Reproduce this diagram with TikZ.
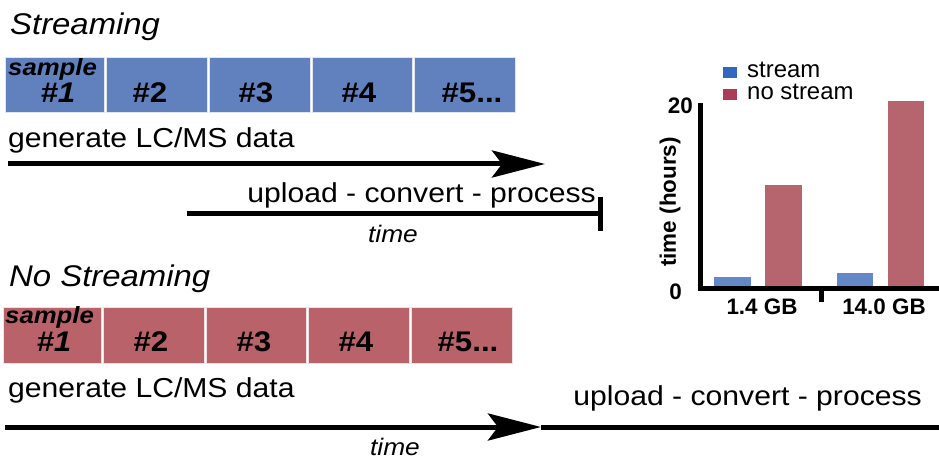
\documentclass[tikz,border=0pt]{standalone}
\usepackage{fontspec}
\setmainfont{Liberation Sans}
\newfontfamily\widefont[FakeStretch=1.1]{Liberation Sans}
\usetikzlibrary{arrows.meta}
\definecolor{boxblue}{HTML}{6080BE}
\definecolor{boxred}{HTML}{B96269}
\definecolor{barblue}{HTML}{6487C8}
\definecolor{barred}{HTML}{B6646E}
\definecolor{legblue}{HTML}{3366BE}
\definecolor{legred}{HTML}{AA3C5A}
\tikzset{
  bigtxt/.style={inner sep=0, font=\widefont\fontsize{27.5}{30}\selectfont},
  titletxt/.style={inner sep=0, font=\widefont\fontsize{30}{33}\selectfont\itshape},
  timetxt/.style={inner sep=0, font=\widefont\fontsize{24}{26}\selectfont\itshape},
  numtxt/.style={inner sep=0, font=\widefont\fontsize{28.5}{30}\selectfont\bfseries},
  numitxt/.style={inner sep=0, font=\widefont\fontsize{28.5}{30}\selectfont\bfseries\itshape},
  smptxt/.style={inner sep=0, font=\widefont\fontsize{23.5}{26}\selectfont\bfseries\itshape},
  bluebox/.style={fill=boxblue, draw=white!80!boxblue, line width=1bp},
  redbox/.style={fill=boxred, draw=white!80!boxred, line width=1bp},
  timeline/.style={line width=5bp},
  arrowline/.style={line width=5bp, -{Stealth[length=53bp,width=27bp,inset=10bp]}},
  axis/.style={line width=5bp, line join=miter},
  charttxt/.style={inner sep=0, font=\fontsize{22.5}{24}\selectfont\bfseries},
  legtxt/.style={inner sep=0, font=\fontsize{24}{26}\selectfont},
}
\begin{document}
\begin{tikzpicture}[x=1bp,y=-1bp]
\useasboundingbox (0,0) rectangle (939,459);

% ---------- Streaming ----------
\node[titletxt, anchor=base west] (tstream) at (10,35) {Streaming};

\path[bluebox] (5,58) rectangle (104,113);
\path[bluebox] (106,58) rectangle (207,113);
\path[bluebox] (209,58) rectangle (310,113);
\path[bluebox] (312,58) rectangle (412,113);
\path[bluebox] (414,58) rectangle (515,113);
\node[smptxt, anchor=base west] (bs) at (8,76) {sample};
\node[numitxt, anchor=base] (b1) at (58,103) {\#1};
\node[numtxt, anchor=base] (b2) at (150,103) {\#2};
\node[numtxt, anchor=base] (b3) at (256,103) {\#3};
\node[numtxt, anchor=base] (b4) at (359,103) {\#4};
\node[numtxt, anchor=base] (b5) at (472,103) {\#5...};

\node[bigtxt, anchor=base west] (gen1) at (8,148) {generate LC/MS data};
\coordinate (a1s) at (8,164);
\coordinate (a1e) at (545,164);
\draw[arrowline] (a1s) -- (a1e);

\node[bigtxt, anchor=base east] (up1) at (596,203) {upload - convert - process};
\coordinate (l2s) at (187,214);
\coordinate (l2e) at (600,214);
\coordinate (b2t) at (600,197);
\coordinate (b2b) at (600,231);
\draw[timeline] (l2s) -- (l2e);
\draw[timeline] (b2t) -- (b2b);
\node[timetxt, anchor=base] (time1) at (393,243) {time};

% ---------- No Streaming ----------
\node[titletxt, anchor=base west] (tnostream) at (9,287) {No Streaming};

\path[redbox] (3,308) rectangle (101,364);
\path[redbox] (103,308) rectangle (204,364);
\path[redbox] (206,308) rectangle (306,364);
\path[redbox] (308,308) rectangle (409,364);
\path[redbox] (411,308) rectangle (512,364);
\node[smptxt, anchor=base west] (rs) at (5,324) {sample};
\node[numitxt, anchor=base] (r1) at (54,352) {\#1};
\node[numtxt, anchor=base] (r2) at (151,352) {\#2};
\node[numtxt, anchor=base] (r3) at (254,352) {\#3};
\node[numtxt, anchor=base] (r4) at (356,352) {\#4};
\node[numtxt, anchor=base] (r5) at (468,352) {\#5...};

\node[bigtxt, anchor=base west] (gen2) at (8,397) {generate LC/MS data};
\node[bigtxt, anchor=base east] (up2) at (922,405) {upload - convert - process};
\coordinate (a3s) at (5,427);
\coordinate (a3e) at (541,427);
\coordinate (l4e) at (939,427);
\draw[arrowline] (a3s) -- (a3e);
\draw[timeline] (a3e) -- (l4e);
\node[timetxt, anchor=base] (time2) at (395,455) {time};

% ---------- Chart ----------
\fill[legblue] (723,67) rectangle (737,78);
\node[legtxt, anchor=base west] (lstream) at (747,78) {stream};
\fill[legred] (723,89) rectangle (737,100);
\node[legtxt, anchor=base west] (lnostream) at (747,100) {no stream};

\fill[barblue] (714,277) rectangle (751,289);
\fill[barred] (765,185) rectangle (802,289);
\fill[barblue] (837,273) rectangle (873,289);
\fill[barred] (888,101) rectangle (924,289);

\coordinate (ytop) at (700,103);
\coordinate (orig) at (700,289);
\coordinate (xend) at (939,289);
\draw[axis] (ytop) -- (orig) -- (xend);
\coordinate (tk1) at (821,289);
\coordinate (tk2) at (821,302);
\draw[timeline] (tk1) -- (tk2);

\node[charttxt, anchor=east] (y20) at (693,106) {20};
\node[charttxt, anchor=east] (y0) at (682,292) {0};
\node[charttxt, rotate=90] (ylab) at (670,202) {time (hours)};
\node[charttxt, anchor=base] (x1) at (762,315) {1.4 GB};
\node[charttxt, anchor=base] (x2) at (884,315) {14.0 GB};
\end{tikzpicture}
\end{document}
